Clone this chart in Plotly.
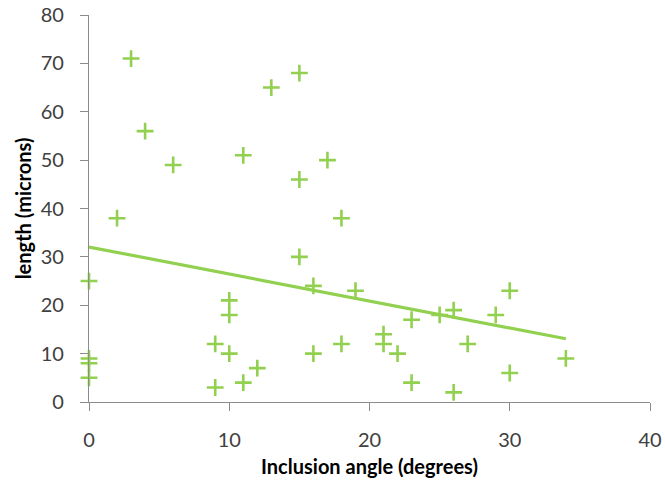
import numpy as np
import plotly.graph_objects as go

angle = [0, 0, 0, 0, 2, 3, 4, 6, 9, 9, 10, 10, 10, 11, 11, 12, 13, 15, 15, 15,
         16, 16, 17, 18, 18, 19, 21, 21, 22, 23, 23, 25, 26, 26, 27, 29, 30, 30, 34]
length = [25, 9, 8, 5, 38, 71, 56, 49, 12, 3, 21, 18, 10, 51, 4, 7, 65, 68, 46, 30,
          24, 10, 50, 38, 12, 23, 14, 12, 10, 17, 4, 18, 19, 2, 12, 18, 23, 6, 9]

x_ticks = [0, 10, 20, 30, 40]
y_ticks = [0, 10, 20, 30, 40, 50, 60, 70, 80]

green = "#92D050"

slope, intercept = np.polyfit(angle, length, 1)
fx = [min(angle), max(angle)]
fy = [intercept + slope * v for v in fx]

fig = go.Figure()
fig.add_trace(go.Scatter(x=fx, y=fy, mode="lines",
                         line=dict(color=green, width=3.2), showlegend=False))
fig.add_trace(go.Scatter(x=angle, y=length, mode="markers",
                         marker=dict(symbol="cross-thin", size=12,
                                     line=dict(color=green, width=2.6)),
                         cliponaxis=False, showlegend=False))

font_family = "Lato, Open Sans, sans-serif"
axis_common = dict(showgrid=False, zeroline=False, automargin=False,
                   showline=True, linecolor="#8c8c8c", linewidth=1.2,
                   ticks="outside", ticklen=8, tickcolor="#8c8c8c", tickwidth=1.2,
                   tickfont=dict(family=font_family, size=20, color="#404040"))
fig.update_layout(
    width=665, height=486,
    margin=dict(l=89, r=15, t=15, b=84),
    plot_bgcolor="white", paper_bgcolor="white",
    font=dict(family=font_family, color="#404040", size=20),
    xaxis=dict(range=[0, 40], tickvals=x_ticks, ticklabelstandoff=12,
               title=dict(text="<b>Inclusion angle (degrees)</b>",
                          font=dict(family=font_family, size=20, color="#000000"),
                          standoff=9),
               **axis_common),
    yaxis=dict(range=[0, 80], tickvals=y_ticks, ticklabelstandoff=12,
               title=dict(text="<b>length (microns)</b>",
                          font=dict(family=font_family, size=20, color="#000000"),
                          standoff=3),
               **axis_common),
)

fig.write_html("out.html", config={"displayModeBar": False},
               post_script="document.body.style.margin='0';document.body.style.overflow='hidden';")
